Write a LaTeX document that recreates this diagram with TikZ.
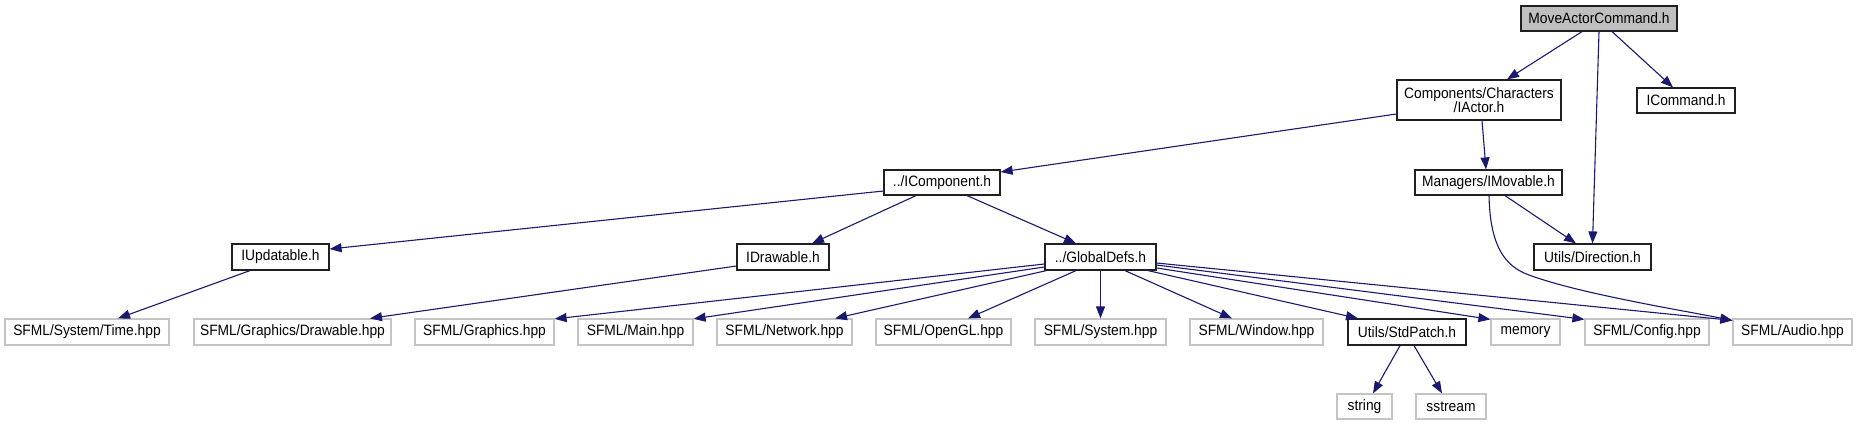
\documentclass[tikz,border=0pt]{standalone}
\usepackage{fontspec}
\setmainfont{Liberation Sans}[FakeStretch=0.92]
\usetikzlibrary{arrows.meta}
\definecolor{edgeblue}{HTML}{191970}
\definecolor{rootgray}{HTML}{BFBFBF}
\definecolor{extgray}{HTML}{C4C4C4}
\definecolor{incborder}{HTML}{202020}
\begin{document}
\begin{tikzpicture}[x=1pt,y=-1pt,
  font=\fontsize{15pt}{14pt}\selectfont,
  inc/.style={draw=incborder, line width=1.2pt, fill=white, inner sep=0pt, align=center, text=black},
  ext/.style={draw=extgray, line width=1.2pt, fill=white, inner sep=0pt, align=center, text=black},
  root/.style={inc, fill=rootgray},
  edge/.style={draw=edgeblue, line width=1.1pt, -{Triangle[length=12pt,width=9pt]}}]
\useasboundingbox (0,0) rectangle (1857,425);
% level 0
\node[root, minimum width=156pt, minimum height=25pt] (mac) at (1599,18.5) {MoveActorCommand.h};
% level 1
\node[inc, minimum width=164pt, minimum height=40pt] (iactor) at (1479,100) {Components/Characters\\/IActor.h};
\node[inc, minimum width=98pt, minimum height=25pt] (icmd) at (1686,100.5) {ICommand.h};
% level 2
\node[inc, minimum width=116pt, minimum height=25pt] (icomp) at (942,182.5) {../IComponent.h};
\node[inc, minimum width=147pt, minimum height=25pt] (imov) at (1488.5,182.5) {Managers/IMovable.h};
% level 3
\node[inc, minimum width=97pt, minimum height=26pt] (iupd) at (280.5,257) {IUpdatable.h};
\node[inc, minimum width=92pt, minimum height=26pt] (idraw) at (783,257) {IDrawable.h};
\node[inc, minimum width=111pt, minimum height=26pt] (gdefs) at (1100.5,257) {../GlobalDefs.h};
\node[inc, minimum width=117pt, minimum height=26pt] (udir) at (1592.5,257) {Utils/Direction.h};
% level 4
\node[ext, minimum width=164pt, minimum height=26pt] (time) at (87,332) {SFML/System/Time.hpp};
\node[ext, minimum width=197pt, minimum height=26pt] (drawhpp) at (292.5,332) {SFML/Graphics/Drawable.hpp};
\node[ext, minimum width=139pt, minimum height=26pt] (gfx) at (484.5,332) {SFML/Graphics.hpp};
\node[ext, minimum width=115pt, minimum height=26pt] (mainh) at (635.5,332) {SFML/Main.hpp};
\node[ext, minimum width=135pt, minimum height=26pt] (net) at (784.5,332) {SFML/Network.hpp};
\node[ext, minimum width=135pt, minimum height=26pt] (ogl) at (943.5,332) {SFML/OpenGL.hpp};
\node[ext, minimum width=131pt, minimum height=26pt] (sys) at (1100.5,332) {SFML/System.hpp};
\node[ext, minimum width=133pt, minimum height=26pt] (win) at (1256.5,332) {SFML/Window.hpp};
\node[inc, minimum width=118pt, minimum height=26pt] (stdp) at (1407,332) {Utils/StdPatch.h};
\node[ext, minimum width=69pt, minimum height=26pt] (mem) at (1525.5,332) {memory};
\node[ext, minimum width=124pt, minimum height=26pt] (cfg) at (1647,332) {SFML/Config.hpp};
\node[ext, minimum width=119pt, minimum height=26pt] (audio) at (1792.5,332) {SFML/Audio.hpp};
% level 5
\node[ext, minimum width=55pt, minimum height=25pt] (str) at (1364.5,406.5) {string};
\node[ext, minimum width=70pt, minimum height=25pt] (sstr) at (1451,406.5) {sstream};
% edges
\draw[edge] ([shift={(-17,0)}]mac.south) -- ([shift={(28,0)}]iactor.north);
\draw[edge] (mac.south) -- (udir.north);
\draw[edge] ([shift={(13,0)}]mac.south) -- ([shift={(-13,0)}]icmd.north);
\draw[edge] ([shift={(0,14)}]iactor.west) -- ([shift={(0,-10.5)}]icomp.east);
\draw[edge] ([shift={(3,0)}]iactor.south) -- ([shift={(-2.5,0)}]imov.north);
\draw[edge] ([shift={(16.5,0)}]imov.south) -- ([shift={(-16.5,0)}]udir.north);
\draw[edge] ([shift={(0.5,0)}]imov.south) .. controls (1490,238) and (1500,262) .. (1524,273)
  .. controls (1570,292) and (1680,310) .. ([shift={(0,2)}]audio.north west);
\draw[edge] ([shift={(0,8.5)}]icomp.west) -- ([shift={(0,-8)}]iupd.east);
\draw[edge] ([shift={(-26,0)}]icomp.south) -- ([shift={(29,0)}]idraw.north);
\draw[edge] ([shift={(25,0)}]icomp.south) -- ([shift={(-24.5,0)}]gdefs.north);
\draw[edge] ([shift={(-30.5,0)}]iupd.south) -- ([shift={(31,0)}]time.north);
\draw[edge] ([shift={(0,9)}]idraw.west) -- ([shift={(77.5,0)}]drawhpp.north);
\draw[edge] ([shift={(0,7)}]gdefs.west) -- ([shift={(0,0.5)}]gfx.north east);
\draw[edge] ([shift={(0,10)}]gdefs.west) -- ([shift={(0,0.5)}]mainh.north east);
\draw[edge] ([shift={(2,0)}]gdefs.south west) -- ([shift={(50.5,0)}]net.north);
\draw[edge] ([shift={(-24.5,0)}]gdefs.south) -- ([shift={(24.5,0)}]ogl.north);
\draw[edge] (gdefs.south) -- (sys.north);
\draw[edge] ([shift={(24.5,0)}]gdefs.south) -- ([shift={(-24.5,0)}]win.north);
\draw[edge] ([shift={(47.5,0)}]gdefs.south) -- ([shift={(-49,0)}]stdp.north);
\draw[edge] ([shift={(0,11)}]gdefs.east) -- ([shift={(0,1)}]mem.north west);
\draw[edge] ([shift={(0,8)}]gdefs.east) -- ([shift={(0,1)}]cfg.north west);
\draw[edge] ([shift={(0,6)}]gdefs.east) -- ([shift={(0,2)}]audio.north west);
\draw[edge] ([shift={(-7,0)}]stdp.south) -- ([shift={(8.5,0)}]str.north);
\draw[edge] ([shift={(7,0)}]stdp.south) -- ([shift={(-9,0)}]sstr.north);
\end{tikzpicture}
\end{document}
